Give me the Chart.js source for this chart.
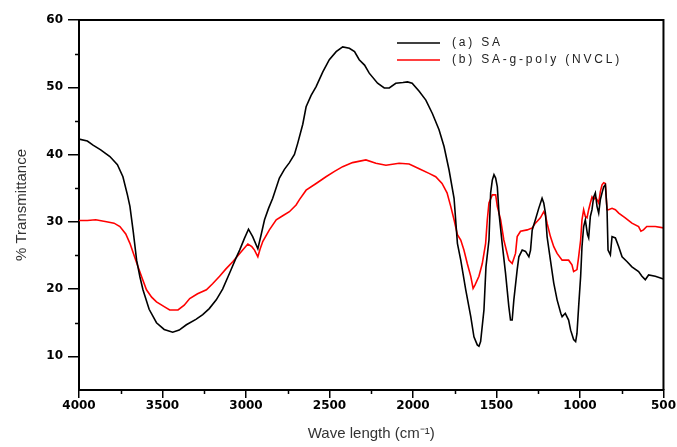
<!DOCTYPE html>
<html>
<head>
<meta charset="utf-8">
<title>FTIR spectra</title>
<script src="https://cdn.jsdelivr.net/npm/chart.js@4.4.1/dist/chart.umd.min.js"></script>
<style>
  html, body { margin: 0; padding: 0; background: #fff; }
  #ftir { display: block; }
</style>
</head>
<body>
<canvas id="ftir" width="677" height="447"></canvas>
<script>
// (a) SA: wavenumber (cm-1) and % transmittance
const saWave = [4000, 3950, 3916, 3870, 3815, 3770, 3737, 3710, 3695, 3675, 3655, 3635, 3617, 3580, 3536, 3490, 3439, 3400, 3357, 3300,
  3259, 3220, 3178, 3140, 3098, 3060, 3038, 3010, 2985, 2960, 2929, 2910, 2889, 2865, 2840, 2800, 2770, 2740, 2710, 2690,
  2660, 2640, 2610, 2580, 2540, 2501, 2460, 2421, 2381, 2350, 2322, 2290, 2262, 2212, 2172, 2142, 2103, 2060, 2033, 2005,
  1963, 1923, 1884, 1844, 1814, 1784, 1754, 1734, 1714, 1684, 1654, 1635, 1615, 1605, 1595, 1575, 1563, 1545, 1535, 1525,
  1515, 1505, 1495, 1485, 1466, 1446, 1426, 1416, 1406, 1396, 1376, 1366, 1346, 1326, 1306, 1296, 1286, 1267, 1247, 1227,
  1217, 1207, 1197, 1177, 1157, 1137, 1115, 1107, 1088, 1068, 1056, 1038, 1026, 1018, 1008, 996, 988, 978, 968, 955,
  948, 938, 928, 918, 908, 898, 888, 878, 868, 858, 848, 838, 832, 818, 808, 788, 768, 748, 719, 689,
  649, 629, 609, 589, 549, 500];
const saT = [42.3, 42.0, 41.4, 40.7, 39.7, 38.5, 36.7, 34.0, 32.3, 28.5, 24.3, 21.8, 19.9, 17.0, 15.0, 14.0, 13.6, 13.9, 14.7, 15.5,
  16.2, 17.1, 18.4, 20.0, 22.4, 24.6, 25.8, 27.5, 28.9, 27.8, 26.0, 28.0, 30.3, 32.0, 33.5, 36.5, 37.8, 38.8, 40.0, 41.7,
  44.5, 47.1, 48.8, 50.1, 52.3, 54.1, 55.3, 56.0, 55.8, 55.3, 54.1, 53.3, 52.1, 50.6, 49.9, 49.9, 50.6, 50.7, 50.8, 50.6,
  49.4, 48.1, 46.1, 43.7, 41.2, 37.7, 33.5, 26.8, 24.3, 19.9, 15.9, 12.9, 11.7, 11.5, 12.2, 16.9, 23.3, 27.3, 34.3, 36.2,
  37.0, 36.5, 35.2, 31.3, 26.8, 22.4, 17.4, 15.4, 15.4, 18.4, 22.9, 24.8, 25.8, 25.6, 24.8, 25.8, 28.8, 30.3, 32.0, 33.5,
  32.8, 31.3, 27.8, 24.3, 20.9, 18.4, 16.4, 15.9, 16.4, 15.4, 13.9, 12.5, 12.2, 13.4, 17.4, 21.9, 26.3, 29.3, 30.3, 28.1,
  27.6, 30.8, 31.8, 33.7, 34.3, 32.3, 31.3, 33.3, 34.3, 35.2, 35.5, 31.8, 25.8, 25.1, 27.8, 27.6, 26.3, 24.8, 24.1, 23.3,
  22.6, 21.9, 21.4, 22.1, 21.9, 21.5];

// (b) SA-g-poly(NVCL)
const nvclWave = [4000, 3950, 3900, 3835, 3790, 3755, 3720, 3695, 3670, 3646, 3620, 3596, 3565, 3536, 3490, 3457, 3407, 3370, 3337, 3290,
  3237, 3200, 3158, 3120, 3078, 3030, 2989, 2965, 2949, 2929, 2915, 2899, 2860, 2819, 2780, 2740, 2700, 2680, 2640, 2580,
  2521, 2470, 2421, 2362, 2282, 2222, 2162, 2083, 2023, 1963, 1904, 1864, 1826, 1796, 1774, 1754, 1734, 1714, 1695, 1675,
  1654, 1640, 1629, 1605, 1585, 1565, 1555, 1545, 1525, 1505, 1495, 1475, 1456, 1436, 1426, 1406, 1386, 1376, 1356, 1316,
  1286, 1267, 1237, 1217, 1207, 1197, 1177, 1157, 1137, 1107, 1088, 1068, 1048, 1038, 1018, 1008, 996, 988, 978, 968,
  958, 948, 938, 928, 918, 908, 898, 888, 878, 868, 858, 848, 838, 829, 808, 788, 768, 729, 689, 649,
  635, 620, 600, 549, 500];
const nvclT = [30.2, 30.2, 30.3, 30.0, 29.8, 29.3, 28.2, 26.8, 25.0, 23.3, 21.5, 19.9, 18.8, 18.1, 17.4, 16.9, 16.9, 17.6, 18.6, 19.3,
  19.9, 20.8, 21.9, 23.0, 24.1, 25.5, 26.7, 26.3, 25.8, 24.8, 26.0, 27.1, 28.8, 30.3, 30.9, 31.5, 32.5, 33.3, 34.7, 35.7,
  36.7, 37.5, 38.2, 38.8, 39.2, 38.7, 38.4, 38.7, 38.6, 37.9, 37.2, 36.7, 35.7, 34.3, 32.3, 30.3, 28.1, 27.3, 25.8, 23.8,
  21.9, 20.1, 20.6, 21.9, 23.8, 26.8, 30.3, 32.8, 34.0, 34.0, 32.3, 30.3, 27.3, 25.3, 24.3, 23.8, 25.3, 27.8, 28.6, 28.8,
  29.1, 29.8, 30.6, 31.5, 31.0, 29.8, 27.8, 26.3, 25.3, 24.3, 24.3, 24.3, 23.6, 22.6, 22.9, 24.8, 27.3, 30.3, 31.8, 30.8,
  30.6, 31.8, 32.8, 33.7, 33.3, 33.7, 33.3, 32.8, 34.5, 35.5, 35.8, 35.7, 31.8, 31.8, 32.0, 31.8, 31.3, 30.6, 29.8, 29.3,
  28.6, 28.8, 29.3, 29.3, 29.1];

const seriesNames = ['(a) SA', '(b) SA-g-poly (NVCL)'];
const seriesColors = ['#000000', '#ff0000'];

const xTicks = [4000, 3500, 3000, 2500, 2000, 1500, 1000, 500];
const xMinorTicks = [3750, 3250, 2750, 2250, 1750, 1250, 750];
const yTicks = [10, 20, 30, 40, 50, 60];
const yMinorTicks = [15, 25, 35, 45, 55];

const toPoints = (xs, ys) => xs.map((x, i) => ({ x: x, y: ys[i] }));

// top/right frame, minor ticks and the in-plot legend
const framePlugin = {
  id: 'frame',
  afterDraw(chart) {
    const { ctx, chartArea: a, scales: { x, y } } = chart;
    ctx.save();
    ctx.strokeStyle = '#000';
    ctx.lineWidth = 2;
    ctx.beginPath();
    ctx.moveTo(a.left, a.top);
    ctx.lineTo(a.right, a.top);
    ctx.lineTo(a.right, a.bottom);
    ctx.stroke();

    ctx.lineWidth = 1.5;
    ctx.beginPath();
    xMinorTicks.forEach(v => {
      const px = Math.round(x.getPixelForValue(v)) + 0.5;
      ctx.moveTo(px, a.bottom);
      ctx.lineTo(px, a.bottom + 4);
    });
    yMinorTicks.forEach(v => {
      const py = Math.round(y.getPixelForValue(v)) + 0.5;
      ctx.moveTo(a.left, py);
      ctx.lineTo(a.left - 4, py);
    });
    ctx.stroke();

    // legend
    ctx.font = '12px "Liberation Sans", Arial, sans-serif';
    ctx.letterSpacing = '2.8px';
    ctx.textBaseline = 'middle';
    ctx.fillStyle = '#222';
    seriesNames.forEach((name, i) => {
      const ly = 43 + i * 17;
      ctx.strokeStyle = seriesColors[i];
      ctx.lineWidth = 1.5;
      ctx.beginPath();
      ctx.moveTo(397, ly);
      ctx.lineTo(440, ly);
      ctx.stroke();
      ctx.fillText(name, 452, ly);
    });
    ctx.restore();
  }
};

const tickFont = { family: '"DejaVu Sans", sans-serif', size: 12, weight: 'bold' };
const titleFont = { family: '"Liberation Sans", Arial, sans-serif', size: 15 };

new Chart(document.getElementById('ftir'), {
  type: 'scatter',
  data: {
    datasets: [
      {
        label: seriesNames[0],
        data: toPoints(saWave, saT),
        borderColor: seriesColors[0],
        showLine: true,
        borderWidth: 1.6,
        pointRadius: 0,
        tension: 0
      },
      {
        label: seriesNames[1],
        data: toPoints(nvclWave, nvclT),
        borderColor: seriesColors[1],
        showLine: true,
        borderWidth: 1.6,
        pointRadius: 0,
        tension: 0
      }
    ]
  },
  options: {
    responsive: false,
    animation: false,
    layout: { padding: { top: 20, right: 12, left: 0, bottom: 0 } },
    plugins: {
      legend: { display: false },
      tooltip: { enabled: false }
    },
    scales: {
      x: {
        type: 'linear',
        reverse: true,
        min: 500,
        max: 4000,
        afterBuildTicks: scale => { scale.ticks = xTicks.map(v => ({ value: v })); },
        afterFit: scale => { scale.height = 57; },
        ticks: { font: tickFont, color: '#000', padding: 1, maxRotation: 0, callback: v => String(v) },
        grid: { drawOnChartArea: false, drawTicks: true, tickLength: 8, color: '#000', lineWidth: 1.5 },
        border: { display: true, color: '#000', width: 2 },
        title: {
          display: true,
          text: 'Wave length (cm\u207B\u00B9)',
          font: titleFont,
          color: '#333',
          padding: { top: 0, bottom: 4 }
        }
      },
      y: {
        type: 'linear',
        min: 5,
        max: 60,
        afterBuildTicks: scale => { scale.ticks = yTicks.map(v => ({ value: v })); },
        afterFit: scale => { scale.width = 79; },
        ticks: { font: tickFont, color: '#000', padding: 5, callback: v => String(v) },
        grid: { drawOnChartArea: false, drawTicks: true, tickLength: 11, color: '#000', lineWidth: 1.5 },
        border: { display: true, color: '#000', width: 2 },
        title: {
          display: true,
          text: '% Transmittance',
          font: titleFont,
          color: '#333',
          padding: { top: 13, bottom: 0 }
        }
      }
    }
  },
  plugins: [framePlugin]
});
</script>
</body>
</html>
